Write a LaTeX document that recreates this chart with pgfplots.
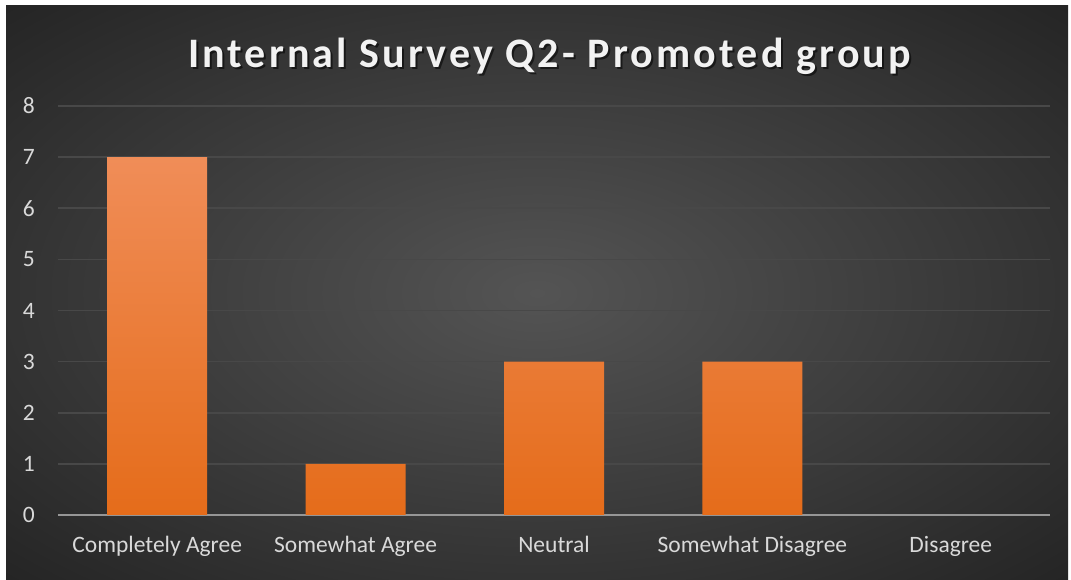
\documentclass[border=0pt]{standalone}
\usepackage{fontspec}
\setmainfont{Carlito}
\newfontfamily\titlefont[LetterSpace=7.5]{Carlito}
\usepackage{pgfplots}
\pgfplotsset{compat=1.18}

\definecolor{bgin}{RGB}{84,84,84}
\definecolor{bgout}{RGB}{36,36,36}
\definecolor{gridc}{RGB}{72,72,72}
\definecolor{axisc}{RGB}{150,150,150}
\definecolor{labelc}{RGB}{217,217,217}
\definecolor{barTop}{RGB}{240,141,88}
\definecolor{barMid}{RGB}{245,128,42}
\definecolor{barBot}{RGB}{229,108,26}
\pgfdeclareradialshading{bgshade}{\pgfpoint{0bp}{0bp}}{color(0bp)=(bgin); color(36bp)=(bgout); color(50bp)=(bgout)}

\begin{document}
\begin{tikzpicture}[x=1pt,y=1pt]
  % page and dark chart area
  \fill[white] (0,0) rectangle (1071,580);
  \shade[shading=bgshade] (6,0) rectangle (1068,574);

  % title with a soft shadow
  \node[anchor=base, text=black, opacity=0.55, font=\titlefont\bfseries\fontsize{42}{50}\selectfont]
    at (551.5,510) {Internal Survey Q2- Promoted group};
  \node[anchor=base, text=white!95!black, font=\titlefont\bfseries\fontsize{42}{50}\selectfont]
    at (549.5,512) {Internal Survey Q2- Promoted group};

  \begin{axis}[
    at={(58pt,65pt)}, anchor=south west,
    scale only axis,
    width=992pt, height=409pt,
    ybar,
    bar width=100pt,
    xmin=-0.5, xmax=4.5,
    ymin=0, ymax=8,
    xtick={0,...,4},
    xticklabels={Completely Agree, Somewhat Agree, Neutral, Somewhat Disagree, Disagree},
    ytick={0,...,8},
    axis x line*=bottom,
    axis y line*=left,
    x axis line style={color=axisc, line width=2pt, -},
    y axis line style={draw=none},
    major tick length=0pt,
    ymajorgrids=true,
    grid style={color=gridc, line width=1.6pt},
    tick label style={font=\fontsize{23.5}{28}\selectfont, text=labelc},
    /pgf/number format/assume math mode=true,
    yticklabel style={anchor=east, inner sep=0pt, xshift=-23pt},
    xticklabel style={anchor=base, inner sep=0pt, yshift=-38pt},
    restrict y to domain=0.01:8,
  ]
    \addplot[draw=none, top color=barTop, middle color=barMid, bottom color=barBot]
      coordinates {(0,7) (1,1) (2,3) (3,3) (4,0)};
  \end{axis}

  \pgfresetboundingbox
  \path[use as bounding box] (0,0) rectangle (1071,580);
\end{tikzpicture}
\end{document}
